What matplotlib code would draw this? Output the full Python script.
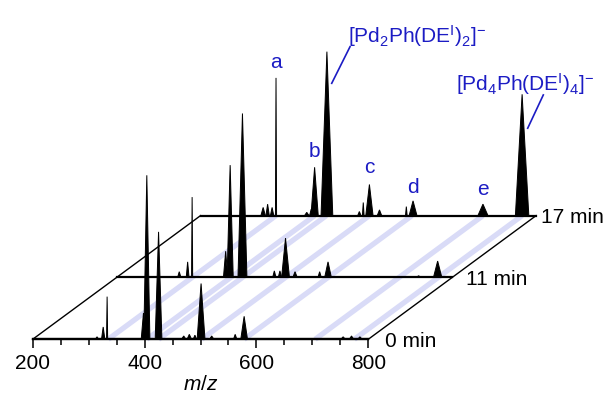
import matplotlib.pyplot as plt
from matplotlib.ticker import FixedLocator

plt.rcParams['font.family'] = ['Liberation Sans', 'DejaVu Sans']
plt.rcParams['mathtext.fontset'] = 'custom'
plt.rcParams['mathtext.rm'] = 'Liberation Sans'
plt.rcParams['mathtext.it'] = 'Liberation Sans:italic'

times = ['0 min', '11 min', '17 min']

# peaks: m/z, relative intensity (tallest = 100), half width at base (m/z)
mz_0 = [315, 326, 333, 398, 404, 425, 470, 480, 490, 501, 520, 562, 578, 755, 770, 785]
int_0 = [1.5, 7.5, 26, 16, 100, 65.5, 2, 3, 2.5, 34, 2, 3, 14, 1.5, 2, 1.5]
hw_0 = [3, 3, 1, 4, 5.5, 6, 4, 4, 3, 7, 4, 3, 6, 4, 4, 4]

mz_11 = [312, 327, 335, 395, 403, 425, 482, 492, 502, 519, 563, 578, 740, 774]
int_11 = [3.5, 9.5, 49, 16, 68.5, 100, 4, 4, 24, 3.5, 3.5, 9.5, 1, 10]
hw_11 = [3, 2.5, 1, 4, 5.5, 8, 3, 3, 7, 4, 3, 6, 5, 7.5]

mz_17 = [312, 320, 328, 335, 390, 398, 404, 426, 484, 491, 502, 520, 568, 580, 705, 775]
int_17 = [5, 7, 5, 84, 2, 4, 29.5, 100, 2.5, 8, 19, 3.5, 5.5, 9, 7, 74]
hw_17 = [4, 3, 3, 1, 4, 3, 6.5, 10.5, 3, 1.5, 6.5, 4, 1.5, 7, 9, 12]

spectra = [(mz_0, int_0, hw_0), (mz_11, int_11, hw_11), (mz_17, int_17, hw_17)]

stripe_mz = [335, 404, 425, 502, 578, 705, 775]
peak_labels = ['a', 'b', 'c', 'd', 'e']
label_mz = [335, 404, 502, 580, 705]
label_y = [165.4, 111.2, 101.4, 89.2, 88]

mz_min, mz_max = 200, 800
dx, dy = 150, 37.7          # offset between successive spectra
blue = '#1c1cc4'

fig = plt.figure(figsize=(6.06, 3.96), dpi=100)
ax = fig.add_axes([0, 0, 1, 1])
ax.set_xlim(141.5, 1225)
ax.set_ylim(-34.6, 206.9)

# floor stripes
for m in stripe_mz:
    ax.plot([m, m + 2 * dx], [0, 2 * dy], color='#d9dbf7', lw=3.8,
            solid_capstyle='butt', zorder=1)

# floor side edges
ax.plot([mz_min, mz_min + 2 * dx], [0, 2 * dy], color='k', lw=1.0, zorder=2)
ax.plot([mz_max, mz_max + 2 * dx], [0, 2 * dy], color='k', lw=1.0, zorder=2)

# spectra, back to front
for i in [2, 1, 0]:
    mz, inten, hw = spectra[i]
    ox, oy = i * dx, i * dy
    ax.plot([mz_min + ox, mz_max + ox], [oy, oy], color='k', lw=1.6, zorder=3)
    for m, h, w in zip(mz, inten, hw):
        ax.fill([m - w + ox, m + ox, m + w + ox], [oy, oy + h, oy],
                color='k', lw=0.7, zorder=3)
    ax.text(mz_max + ox + [30, 24, 8][i], oy - 4.6, times[i],
            fontsize=15, ha='left', va='baseline')

# peak letters on the 17 min trace
for lab, m, y in zip(peak_labels, label_mz, label_y):
    ax.text(m + 2 * dx, y, lab, color=blue, fontsize=15, ha='center', va='baseline')

ax.text(763.7, 180.5, r'[Pd$_2$Ph(DE$^{\mathrm{I}}$)$_2$]$^{-}$', color=blue,
        fontsize=15, ha='left', va='baseline')
ax.plot([767.3, 734.6], [178.4, 156.1], color=blue, lw=1.2)
ax.text(956.8, 151.6, r'[Pd$_4$Ph(DE$^{\mathrm{I}}$)$_4$]$^{-}$', color=blue,
        fontsize=15, ha='left', va='baseline')
ax.plot([1112.9, 1085], [149, 128.7], color=blue, lw=1.2)

# m/z axis on the front trace
for s in ['top', 'right', 'left']:
    ax.spines[s].set_visible(False)
ax.spines['bottom'].set_position(('data', 0))
ax.spines['bottom'].set_bounds(mz_min, mz_max)
ax.spines['bottom'].set_linewidth(1.6)
ax.set_xticks([200, 400, 600, 800])
ax.xaxis.set_minor_locator(FixedLocator(range(250, 800, 50)))
ax.tick_params(axis='x', which='major', length=6.5, width=1.1, labelsize=15, pad=4)
ax.tick_params(axis='x', which='minor', length=4, width=1.1)
ax.set_yticks([])
ax.text(500, -27.3, '$m$/$z$', fontsize=15, ha='center', va='center')

fig.savefig('out.png', dpi=100)
